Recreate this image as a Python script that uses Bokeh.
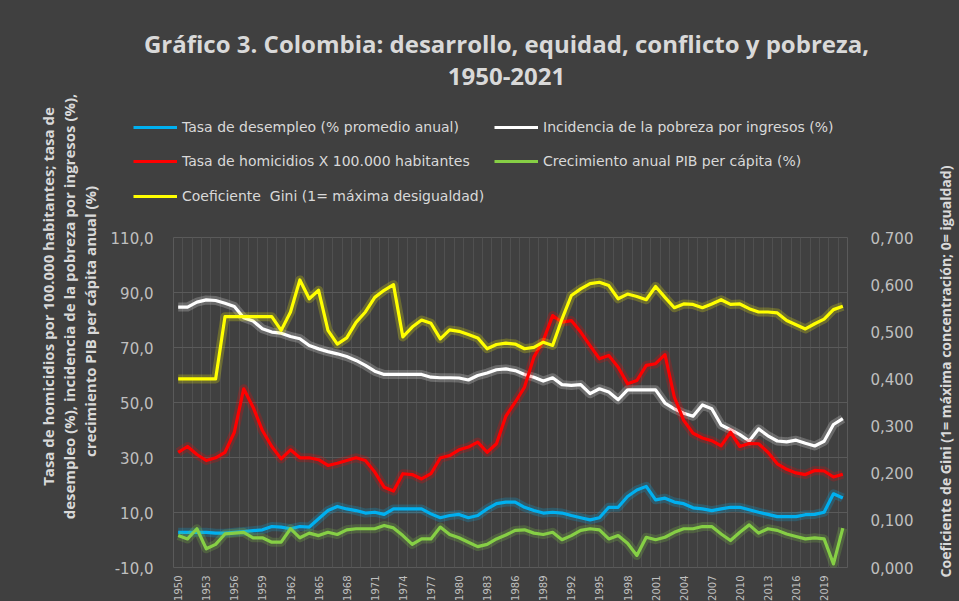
import math
from bokeh.plotting import figure
from bokeh.layouts import row, column
from bokeh.models import Range1d, LinearAxis, FixedTicker, Legend, LegendItem, Label
from bokeh.embed import file_html
from bokeh.resources import INLINE

years = list(range(1950, 2022))

desempleo = [2.8, 2.8, 2.8, 2.8, 2.5, 2.5, 2.8, 3.1, 3.4, 3.7,
             4.9, 4.7, 4.1, 4.9, 4.7, 7.7, 10.7, 12.2, 11.3, 10.7,
             9.8, 10.1, 9.3, 11.3, 11.3, 11.3, 11.3, 9.5, 8.1, 8.9,
             9.3, 8.1, 8.9, 11.3, 13.2, 13.8, 13.8, 11.9, 10.7, 9.8,
             10.1, 9.8, 8.9, 8.1, 7.3, 8.1, 11.9, 11.9, 15.8, 18.2,
             19.5, 14.6, 15.2, 13.8, 13.2, 11.7, 11.3, 10.7, 11.3, 11.9,
             11.9, 11.0, 10.1, 9.3, 8.5, 8.5, 8.5, 9.2, 9.3, 10.1,
             16.8, 15.3]

pobreza = [84.7, 84.7, 86.5, 87.3, 87.1, 86.1, 84.9, 80.8, 79.6, 76.8,
           75.6, 75.2, 74.0, 73.2, 70.7, 69.5, 68.5, 67.7, 66.7, 65.3,
           63.5, 61.4, 60.2, 60.2, 60.2, 60.2, 60.2, 59.2, 59.0, 59.0,
           58.9, 58.2, 59.8, 60.7, 61.9, 62.2, 61.6, 60.2, 59.2, 57.8,
           59.0, 56.5, 56.2, 56.5, 53.2, 55.0, 53.8, 51.0, 54.6, 54.6,
           54.6, 54.6, 49.8, 47.7, 46.1, 45.0, 49.1, 47.7, 41.8, 40.1,
           38.3, 36.0, 40.4, 37.9, 36.0, 35.7, 36.3, 35.2, 34.2, 35.9,
           42.0, 44.1]

homicidios = [31.9, 34.0, 31.1, 28.9, 29.9, 31.9, 39.2, 55.0, 48.3, 39.8,
              34.0, 29.5, 32.8, 29.9, 29.9, 29.2, 27.1, 27.9, 28.9, 29.9,
              28.9, 24.7, 19.2, 17.8, 24.1, 23.8, 22.2, 24.1, 29.8, 30.7,
              32.8, 33.8, 35.6, 31.9, 35.0, 45.0, 50.1, 55.6, 66.5, 72.5,
              81.6, 79.2, 79.8, 75.6, 70.7, 65.9, 67.1, 62.8, 56.8, 58.0,
              63.5, 64.1, 67.4, 52.0, 43.5, 38.8, 37.1, 36.1, 34.2, 39.2,
              34.0, 35.1, 35.0, 31.9, 27.7, 25.7, 24.4, 23.8, 25.3, 25.1,
              22.9, 23.9]

crecimiento = [1.6, 0.4, 4.1, -3.2, -1.6, 2.2, 2.5, 2.8, 0.8, 0.8,
               -0.8, -0.8, 4.1, 0.8, 2.5, 1.6, 2.8, 2.0, 3.7, 4.1,
               4.1, 4.1, 5.3, 4.4, 1.6, -1.6, 0.4, 0.4, 4.7, 2.0,
               0.8, -0.8, -2.4, -1.6, 0.4, 1.8, 3.5, 3.7, 2.5, 2.0,
               2.8, 0.1, 1.6, 3.5, 4.1, 3.7, 0.4, 1.6, -1.2, -5.6,
               1.0, 0.1, 1.0, 2.8, 4.1, 4.1, 4.9, 4.9, 2.2, -0.2,
               2.8, 5.5, 2.5, 4.1, 3.5, 2.2, 1.3, 0.4, 0.8, 0.4,
               -8.7, 4.3]

gini = [0.400, 0.400, 0.400, 0.400, 0.400, 0.532, 0.532, 0.532, 0.532, 0.532,
        0.532, 0.503, 0.542, 0.610, 0.570, 0.588, 0.503, 0.474, 0.487, 0.520,
        0.542, 0.573, 0.588, 0.600, 0.489, 0.510, 0.525, 0.518, 0.485, 0.504,
        0.501, 0.494, 0.487, 0.464, 0.473, 0.476, 0.474, 0.464, 0.467, 0.478,
        0.471, 0.527, 0.577, 0.591, 0.602, 0.605, 0.598, 0.570, 0.580, 0.575,
        0.568, 0.596, 0.573, 0.551, 0.559, 0.558, 0.551, 0.559, 0.568, 0.558,
        0.559, 0.549, 0.542, 0.542, 0.540, 0.524, 0.515, 0.506, 0.517, 0.527,
        0.547, 0.554]

left_ticks = [-10, 10, 30, 50, 70, 90, 110]
left_tick_labels = ["-10,0", "10,0", "30,0", "50,0", "70,0", "90,0", "110,0"]
right_ticks = [0.0, 0.1, 0.2, 0.3, 0.4, 0.5, 0.6, 0.7]
right_tick_labels = ["0,000", "0,100", "0,200", "0,300", "0,400", "0,500", "0,600", "0,700"]
label_years = years[::3]

series = [
    ("Tasa de desempleo (% promedio anual)", desempleo, "#00b0f0", "default"),
    ("Incidencia de la pobreza por ingresos (%)", pobreza, "#ffffff", "default"),
    ("Tasa de homicidios X 100.000 habitantes", homicidios, "#ff0000", "default"),
    ("Crecimiento anual PIB per cápita (%)", crecimiento, "#86cf45", "default"),
    ("Coeficiente  Gini (1= máxima desigualdad)", gini, "#ffff00", "gini"),
]

title1 = "Gráfico 3. Colombia: desarrollo, equidad, conflicto y pobreza,"
title2 = "1950-2021"
left_lines = ["Tasa de homicidios por 100.000 habitantes; tasa de",
              "desempleo (%), incidencia de la pobreza por ingresos (%),",
              "crecimiento PIB per cápita anual (%)"]
right_label = "Coeficiente de Gini (1= máxima concentración; 0= igualdad)"

BG = "#404040"
TXT = "#d9d9d9"


def blank(width, height):
    f = figure(width=width, height=height, x_range=Range1d(0, 1), y_range=Range1d(0, 1),
               x_axis_location=None, y_axis_location=None, min_border=0,
               output_backend="svg", toolbar_location=None)
    f.border_fill_color = BG
    f.background_fill_color = BG
    f.outline_line_color = None
    f.center = []
    return f


# ---------- main plot ----------
p = figure(frame_width=674, frame_height=330,
           min_border_left=73, min_border_right=78, min_border_top=10, min_border_bottom=34,
           x_range=Range1d(years[0] - 0.5, years[-1] + 0.5),
           y_range=Range1d(left_ticks[0], left_ticks[-1]),
           output_backend="svg", toolbar_location=None)
p.border_fill_color = BG
p.background_fill_color = BG
p.outline_line_color = "#5a5a5a"
p.extra_y_ranges = {"gini": Range1d(right_ticks[0], right_ticks[-1])}

p.xaxis.ticker = FixedTicker(ticks=label_years)
p.xaxis.major_label_orientation = math.pi / 2
p.yaxis.ticker = FixedTicker(ticks=left_ticks)
p.yaxis.major_label_overrides = {t: s for t, s in zip(left_ticks, left_tick_labels)}
rax = LinearAxis(y_range_name="gini", ticker=FixedTicker(ticks=right_ticks),
                 major_label_overrides={t: s for t, s in zip(right_ticks, right_tick_labels)})
p.add_layout(rax, "right")
for ax in [p.xaxis[0], p.yaxis[0], rax]:
    ax.axis_line_color = None
    ax.major_tick_line_color = None
    ax.minor_tick_line_color = None
    ax.major_label_text_color = "#bfbfbf"
    ax.major_label_text_font = "DejaVu Sans"
    ax.major_label_text_font_size = "15px"
p.xaxis.major_label_text_font_size = "10px"
p.xaxis.major_label_standoff = 2
p.yaxis.major_label_standoff = 14
rax.major_label_standoff = 17

p.ygrid.ticker = FixedTicker(ticks=left_ticks)
p.ygrid.grid_line_color = "#5a5a5a"
p.xgrid.ticker = FixedTicker(ticks=[y - 0.5 for y in years] + [years[-1] + 0.5])
p.xgrid.grid_line_color = "#505050"

for name, vals, col, rng in series:
    p.line(years, vals, line_width=9, color=col, alpha=0.22, y_range_name=rng, line_join="round")
    p.line(years, vals, line_width=3.2, color=col, y_range_name=rng, line_join="round")

# ---------- header: title + legend ----------
head = blank(825, 227)
common = dict(x_units="screen", y_units="screen", text_color=TXT, text_font="Open Sans",
              text_font_style="bold", text_align="center", text_baseline="middle")
head.add_layout(Label(x=406, y=184, text=title1, text_font_size="24px", **common))
head.add_layout(Label(x=406, y=151, text=title2, text_font_size="24px", **common))

# legend swatches: the series themselves, drawn far outside the header's view
legend_pos = [(33, 90), (394, 90), (33, 56), (394, 56), (33, 21)]
for (name, vals, col, rng), loc in zip(series, legend_pos):
    r = head.line(years, vals, line_width=3.2, color=col)
    lg = Legend(items=[LegendItem(label=name, renderers=[r])], location=loc,
                background_fill_alpha=0, border_line_alpha=0, padding=0, margin=0,
                glyph_width=44, glyph_height=20, label_height=20, label_standoff=5,
                label_text_color=TXT, label_text_font="DejaVu Sans", label_text_font_size="14px")
    head.add_layout(lg)

# ---------- side strips with vertical labels ----------
left_strip = blank(100, 601)
for line, cx, cy in zip(left_lines, [47, 68, 89], [305, 295, 280]):
    left_strip.add_layout(Label(x=cx, y=cy, text=line, angle=math.pi / 2,
                                text_font_size="15px", **common))

right_strip = blank(34, 601)
right_strip.add_layout(Label(x=20, y=230, text=right_label, angle=math.pi / 2,
                             text_font_size="14px", **common))

bgstyle = {"background-color": BG}
layout = row(left_strip,
             column(row(head, spacing=0, styles=bgstyle), row(p, spacing=0, styles=bgstyle),
                    spacing=0, styles=bgstyle),
             right_strip, spacing=0, styles=bgstyle)

open("out.html", "w").write(file_html(layout, INLINE))
